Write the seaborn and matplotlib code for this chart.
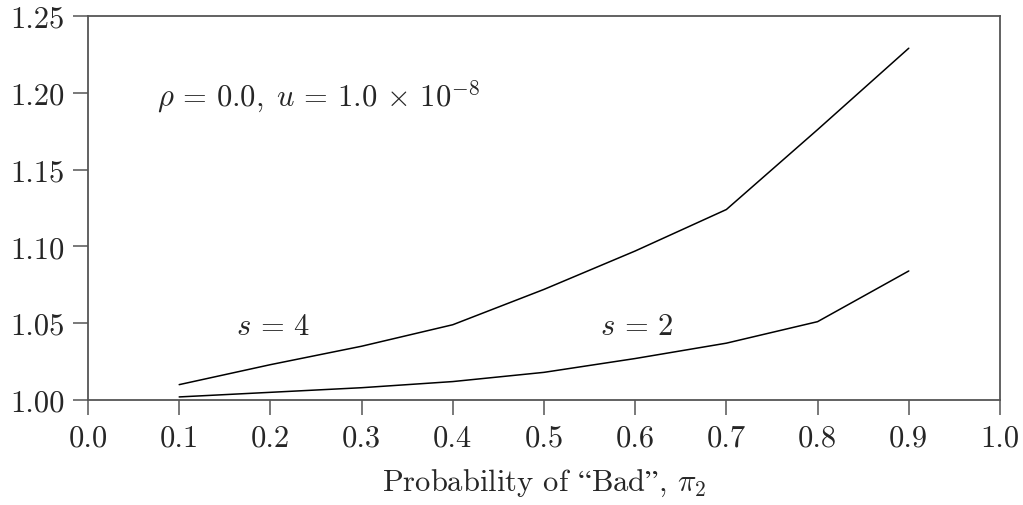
import numpy as np
import pandas as pd
import matplotlib
matplotlib.use("Agg")
import matplotlib.pyplot as plt
import matplotlib.ticker as mticker
import seaborn as sns

# values
prob_bad = [0.1, 0.2, 0.3, 0.4, 0.5, 0.6, 0.7, 0.8, 0.9]
ratio_s4 = [1.010, 1.023, 1.035, 1.049, 1.072, 1.097, 1.124, 1.176, 1.229]
ratio_s2 = [1.002, 1.005, 1.008, 1.012, 1.018, 1.027, 1.037, 1.051, 1.084]
x_ticks = [0.0, 0.1, 0.2, 0.3, 0.4, 0.5, 0.6, 0.7, 0.8, 0.9, 1.0]
y_ticks = [1.00, 1.05, 1.10, 1.15, 1.20, 1.25]

df = pd.DataFrame({
    "pi2": prob_bad * 2,
    "ratio": ratio_s4 + ratio_s2,
    "s": ["4"] * len(prob_bad) + ["2"] * len(prob_bad),
})

sns.set_style("ticks")
plt.rcParams["font.family"] = ["cmr10", "DejaVu Serif"]
plt.rcParams["mathtext.fontset"] = "cm"
plt.rcParams["axes.formatter.use_mathtext"] = True

fig = plt.figure(figsize=(10.23, 5.06), dpi=100)
ax = fig.add_axes([0.086, 0.2075, 0.8915, 0.759])

sns.lineplot(data=df, x="pi2", y="ratio", units="s", estimator=None,
             color="black", linewidth=1.1, ax=ax)

ax.set_xlim(0.0, 1.0)
ax.set_ylim(1.00, 1.25)
ax.set_xticks(x_ticks)
ax.set_yticks(y_ticks)
ax.xaxis.set_major_formatter(mticker.FormatStrFormatter("%.1f"))
ax.yaxis.set_major_formatter(mticker.FormatStrFormatter("%.2f"))

for side in ["top", "right", "left", "bottom"]:
    ax.spines[side].set_visible(True)
    ax.spines[side].set_color("#555555")
    ax.spines[side].set_linewidth(1.3)
ax.tick_params(direction="out", length=11, width=1.1, color="#555555",
               labelsize=22, pad=6)

ax.set_xlabel("Probability of $\\mathrm{\u201c}$Bad$\\mathrm{\u201d}$, $\\pi_2$",
              fontsize=22, labelpad=11)
ax.set_ylabel("")

ax.text(0.076, 1.198, r"$\rho\,=\,0.0,\;u\,=\,1.0\,\times\,10^{-8}$",
        fontsize=22, va="center", ha="left")
ax.text(0.162, 1.048, r"$s\,=\,4$", fontsize=22, va="center", ha="left")
ax.text(0.561, 1.048, r"$s\,=\,2$", fontsize=22, va="center", ha="left")

fig.savefig("out.png", dpi=100)
